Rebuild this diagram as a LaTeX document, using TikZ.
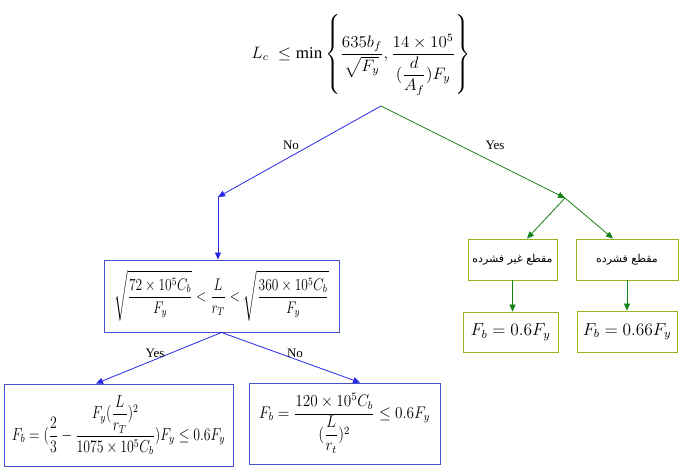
\documentclass[tikz,border=0pt]{standalone}
\usepackage{amsmath}
\usepackage{graphicx}
\usepackage{fontspec}
\setmainfont{Liberation Serif}
\newfontfamily\arabicfont[Script=Arabic]{DejaVu Sans}
\TeXXeTstate=1
\usetikzlibrary{arrows.meta,calc}
\definecolor{bluebox}{RGB}{70,80,200}
\definecolor{blueline}{RGB}{40,40,230}
\definecolor{greenline}{RGB}{20,130,20}
\definecolor{greenbox}{RGB}{150,180,30}
\begin{document}
\begin{tikzpicture}[x=1pt,y=-1pt,
  bbox/.style={draw=bluebox,line width=0.9pt,rectangle,inner sep=0pt,align=center},
  gbox/.style={draw=greenbox,line width=0.9pt,rectangle,inner sep=0pt,align=center},
  bl/.style={draw=blueline,line width=0.8pt,-{Triangle[length=7pt,width=6pt]}},
  gl/.style={draw=greenline,line width=0.8pt,-{Triangle[length=7pt,width=6pt]}},
  lab/.style={font=\fontsize{13}{15}\selectfont,inner sep=1pt},
  every node/.append style={font=\fontsize{12}{14}\selectfont}]
\useasboundingbox (0,0) rectangle (682,475);
\fill[white] (0,0) rectangle (682,475);
% top formula
\node (top) at (361,55) {\scalebox{1.42}[1.38]{$\displaystyle L_c\ \le \min\left\{\frac{635b_f}{\sqrt{F_y}},\frac{14\times10^5}{(\dfrac{d}{A_f})F_y}\right\}$}};
\coordinate (apex) at (381,106);
\coordinate (nl) at (218,197);
\coordinate (yr) at (565,198);
% boxes
\node[bbox,minimum width=235pt,minimum height=72pt] (mid) at (221.5,296)
  {\scalebox{1.12}[1.4]{$\displaystyle \sqrt{\frac{72\times10^5C_b}{F_y}}<\frac{L}{r_T}<\sqrt{\frac{360\times10^5C_b}{F_y}}$}};
\node[bbox,minimum width=229pt,minimum height=82pt] (bleft) at (118.5,425)
  {\scalebox{1.15}[1.45]{$\displaystyle F_b=(\frac{2}{3}-\frac{F_y(\dfrac{L}{r_T})^2}{1075\times10^5C_b})F_y\le0.6F_y$}};
\node[bbox,minimum width=191pt,minimum height=81pt] (bright) at (344.5,423.5)
  {\scalebox{1.27}[1.4]{$\displaystyle F_b=\frac{120\times10^5C_b}{(\dfrac{L}{r_t})^2}\le0.6F_y$}};
\node[gbox,minimum width=89pt,minimum height=41pt] (g1) at (512.5,259.5)
  {\arabicfont\fontsize{11}{13}\selectfont\beginR مقطع غیر فشرده\endR};
\node[gbox,minimum width=102pt,minimum height=41pt] (g2) at (627,259.5)
  {\arabicfont\fontsize{11}{13}\selectfont\beginR مقطع فشرده\endR};
\node[gbox,minimum width=95pt,minimum height=40pt] (g3) at (510.5,332)
  {\scalebox{1.45}{$F_b=0.6F_y$}};
\node[gbox,minimum width=100pt,minimum height=41pt] (g4) at (627,331.5)
  {\scalebox{1.45}{$F_b=0.66F_y$}};
% connectors
\draw[bl] (apex) -- (nl);
\draw[bl] (nl) -- (nl |- mid.north);
\draw[gl] (apex) -- (yr);
\draw[gl] (yr) -- ([xshift=14.5pt]g1.north);
\draw[gl] (yr) -- ([xshift=-14pt]g2.north);
\draw[gl] (g1.south) -- (g1.south |- g3.north);
\draw[gl] (g2.south) -- (g2.south |- g4.north);
\draw[bl] (mid.south) -- ([xshift=-22.5pt]bleft.north);
\draw[bl] (mid.south) -- ([xshift=15.5pt]bright.north);
% labels
\node[lab] (lno) at (291,145) {No};
\node[lab] (lyes) at (495,145) {Yes};
\node[lab] (lyes2) at (155,353) {Yes};
\node[lab] (lno2) at (295,353) {No};
\end{tikzpicture}
\end{document}
